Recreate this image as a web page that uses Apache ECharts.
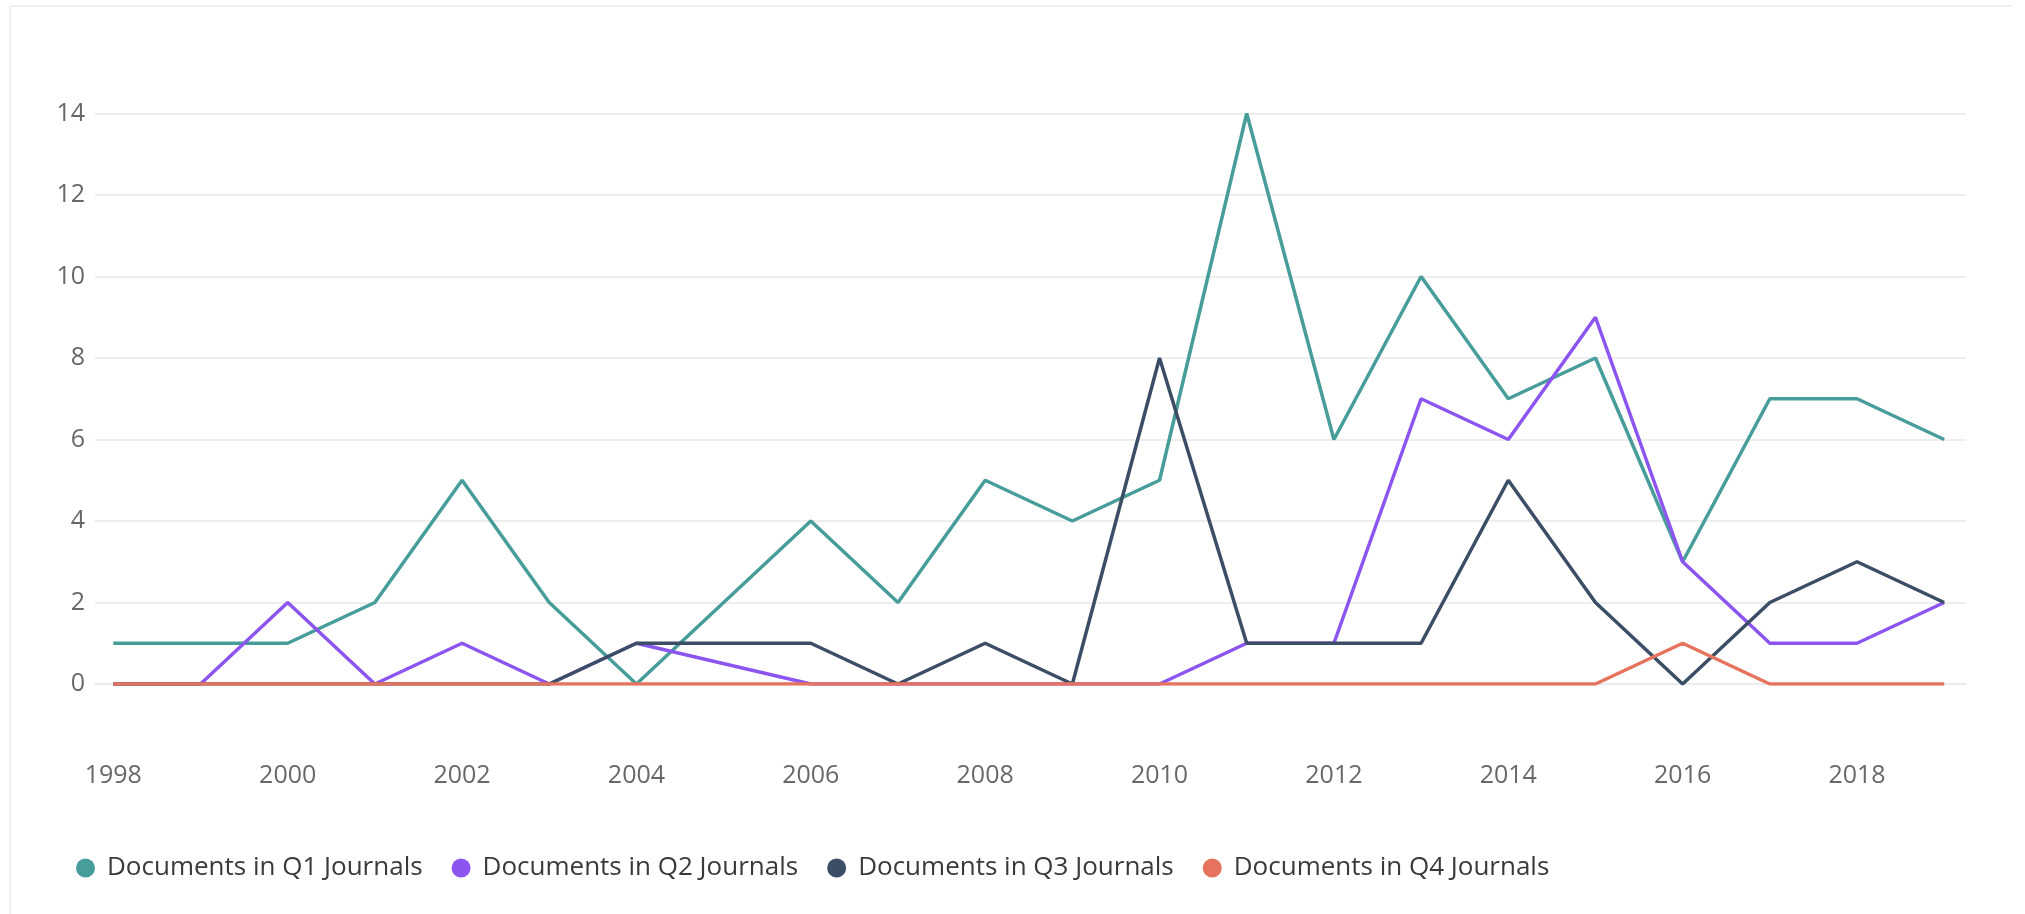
<!DOCTYPE html>
<html>
<head>
<meta charset="utf-8">
<script src="https://cdn.jsdelivr.net/npm/echarts@6/dist/echarts.min.js"></script>
<style>
html,body{margin:0;padding:0;background:#fff;}
#chart{width:2025px;height:914px;}
</style>
</head>
<body>
<div id="chart"></div>
<script>
const years = [1998,1999,2000,2001,2002,2003,2004,2005,2006,2007,2008,2009,2010,2011,2012,2013,2014,2015,2016,2017,2018,2019];
const q1 = [1,1,1,2,5,2,0,2,4,2,5,4,5,14,6,10,7,8,3,7,7,6];
const q2 = [0,0,2,0,1,0,1,null,0,0,0,0,0,1,1,7,6,9,3,1,1,2];
const q3 = [0,0,0,0,0,0,1,1,1,0,1,0,8,1,1,1,5,2,0,2,3,2];
const q4 = [0,0,0,0,0,0,0,0,0,0,0,0,0,0,0,0,0,0,1,0,0,0];
const xTickLabels = [1998,2000,2002,2004,2006,2008,2010,2012,2014,2016,2018];
const seriesNames = ['Documents in Q1 Journals','Documents in Q2 Journals','Documents in Q3 Journals','Documents in Q4 Journals'];
const colors = ['#479d99','#8c55f0','#3c4d66','#e5735d'];

const font = 'Open Sans';
const chart = echarts.init(document.getElementById('chart'));
const mk = (name, vals, color) => ({
  name: name,
  type: 'line',
  data: years.map((y, i) => [y, vals[i]]),
  connectNulls: true,
  showSymbol: false,
  symbol: 'none',
  lineStyle: {width: 3.5, color: color},
  itemStyle: {color: color}
});
chart.setOption({
  animation: false,
  backgroundColor: '#ffffff',
  color: colors,
  graphic: [
    {type: 'line', shape: {x1: 10, y1: 6, x2: 2012, y2: 6}, style: {stroke: '#f0f0f0', lineWidth: 2}},
    {type: 'line', shape: {x1: 10, y1: 6, x2: 10, y2: 914}, style: {stroke: '#f0f0f0', lineWidth: 2}}
  ],
  grid: {left: 95, right: 59, top: 113.5, bottom: 230, containLabel: false},
  legend: {
    left: 71,
    top: 850,
    icon: 'circle',
    itemWidth: 19,
    itemHeight: 19,
    itemGap: 29,
    data: seriesNames,
    textStyle: {fontFamily: font, fontSize: 26, color: '#3a3a3a', padding: [0, 0, 0, 7]}
  },
  xAxis: {
    type: 'value',
    min: 1997.79,
    max: 2019.25,
    offset: 58,
    axisLine: {show: true, lineStyle: {color: '#ececec', width: 2}},
    axisTick: {show: false},
    splitLine: {show: false},
    axisLabel: {
      customValues: xTickLabels,
      formatter: v => String(v),
      margin: 21,
      fontFamily: font,
      fontSize: 25,
      color: '#686868'
    }
  },
  yAxis: {
    type: 'value',
    min: 0,
    max: 14,
    interval: 2,
    axisLine: {show: false},
    axisTick: {show: false},
    splitLine: {show: true, lineStyle: {color: '#eeeeee', width: 2}},
    axisLabel: {margin: 10, fontFamily: font, fontSize: 25, color: '#686868'}
  },
  series: [
    mk(seriesNames[0], q1, colors[0]),
    mk(seriesNames[1], q2, colors[1]),
    mk(seriesNames[2], q3, colors[2]),
    mk(seriesNames[3], q4, colors[3])
  ]
});
</script>
</body>
</html>
